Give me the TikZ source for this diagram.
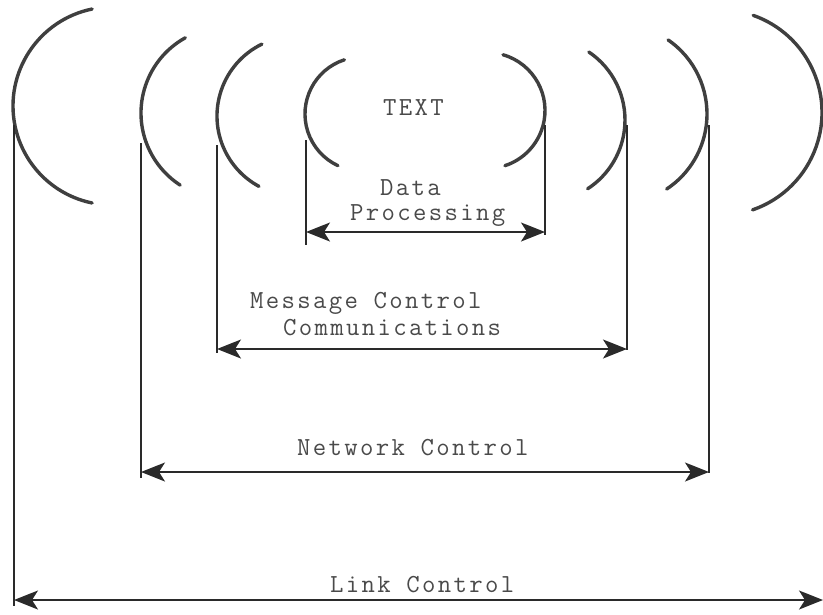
\documentclass[tikz,border=0pt]{standalone}
\usepackage{fontspec}
\newfontfamily\tw{Latin Modern Mono}[LetterSpace=9]
\usetikzlibrary{arrows.meta}
\definecolor{ink}{HTML}{2A2A2A}
\definecolor{txt}{HTML}{4A4A4A}
\tikzset{
  bracket/.style={draw=ink!90, line width=3.4pt, line cap=round},
  rule/.style={draw=ink, line width=1.5pt},
  dimarrow/.style={draw=ink, line width=1.5pt,
    {Stealth[length=24pt,width=19pt,inset=6pt]}-{Stealth[length=24pt,width=19pt,inset=6pt]}},
  lbl/.style={anchor=base west, inner sep=0pt, text=txt, font=\tw\fontsize{26}{26}\selectfont}
}
\begin{document}
\begin{tikzpicture}[x=1pt,y=-1pt]
\useasboundingbox (0,0) rectangle (823,614);
\fill[white] (0,0) rectangle (823,614);
\begin{scope}
\clip (0,0) rectangle (823,614);
% left brackets
\draw[bracket] (112,106) ++(-101.6:99) arc[start angle=-101.6, end angle=-258.4, radius=99];
\draw[bracket] (227,113) ++(-119:86) arc[start angle=-119, end angle=-237, radius=86];
\draw[bracket] (297,116) ++(-116:80) arc[start angle=-116, end angle=-241.6, radius=80];
\draw[bracket] (362,114) ++(-108:57) arc[start angle=-108, end angle=-245, radius=57];
% right brackets
\draw[bracket] (487,110.5) ++(-74:58) arc[start angle=-74, end angle=72, radius=58];
\draw[bracket] (543,120) ++(-56:82) arc[start angle=-56, end angle=57, radius=82];
\draw[bracket] (617,114) ++(-55.4:90) arc[start angle=-55.4, end angle=56.5, radius=90];
\draw[bracket] (719,112.5) ++(-70.6:103) arc[start angle=-70.6, end angle=71, radius=103];
\end{scope}
% coordinates
\coordinate (lcTop) at (14,125);   \coordinate (lcBot) at (14,606);
\coordinate (lcL) at (14,600);     \coordinate (lcR) at (823,600);
\coordinate (ncLTop) at (141,143); \coordinate (ncLBot) at (141,478);
\coordinate (ncRTop) at (709,125); \coordinate (ncRBot) at (709,473);
\coordinate (ncL) at (141,472);    \coordinate (ncR) at (709,472);
\coordinate (mcLTop) at (217,145); \coordinate (mcLBot) at (217,353);
\coordinate (mcRTop) at (627,125); \coordinate (mcRBot) at (627,350);
\coordinate (mcL) at (217,349);    \coordinate (mcR) at (627,349);
\coordinate (dpLTop) at (306,140); \coordinate (dpLBot) at (306,245);
\coordinate (dpRTop) at (545,125); \coordinate (dpRBot) at (545,235);
\coordinate (dpL) at (306,232);    \coordinate (dpR) at (545,232);
% verticals
\draw[rule] (lcTop) -- (lcBot);
\draw[rule] (ncLTop) -- (ncLBot);
\draw[rule] (ncRTop) -- (ncRBot);
\draw[rule] (mcLTop) -- (mcLBot);
\draw[rule] (mcRTop) -- (mcRBot);
\draw[rule] (dpLTop) -- (dpLBot);
\draw[rule] (dpRTop) -- (dpRBot);
% arrows
\draw[dimarrow] (lcL) -- (lcR);
\draw[dimarrow] (ncL) -- (ncR);
\draw[dimarrow] (mcL) -- (mcR);
\draw[dimarrow] (dpL) -- (dpR);
% labels
\node[lbl] (text) at (383,115) {TEXT};
\node[lbl] (data) at (380,195) {Data};
\node[lbl] (proc) at (350,220) {Processing};
\node[lbl] (msg) at (250,308) {Message Control};
\node[lbl] (comm) at (283,335) {Communications};
\node[lbl] (net) at (297,455) {Network Control};
\node[lbl] (link) at (330,592) {Link Control};
\end{tikzpicture}
\end{document}
